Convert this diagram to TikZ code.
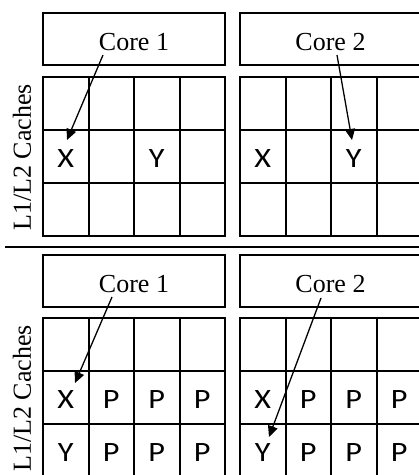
\documentclass[tikz,border=0pt]{standalone}
\usepackage{fontspec}
\setmainfont{Liberation Serif}
\newfontfamily\cellfont[FakeStretch=1.15]{Carlito}
\usetikzlibrary{arrows.meta}
\begin{document}
\begin{tikzpicture}[x=1pt,y=-1pt,
  line width=2pt,
  corebox/.style={draw, minimum width=182pt, minimum height=52pt, inner sep=0pt},
  coretext/.style={inner sep=0pt, yshift=-3.5pt, font=\fontsize{26}{30}\selectfont},
  cell/.style={draw, minimum width=45.5pt, minimum height=53pt, inner sep=0pt},
  letter/.style={inner sep=0pt, yshift=-2pt, font=\cellfont\fontsize{28}{32}\selectfont},
  sidelabel/.style={rotate=90, inner sep=0pt, font=\fontsize{26}{30}\selectfont},
  ptr/.style={line width=1.3pt, -{Triangle[length=11pt,width=10pt]}}
]
\useasboundingbox (0,0) rectangle (419,475);
\clip (0,0) rectangle (419,475);

% core boxes
\node[corebox] (core1top) at (134,39) {};
\node[corebox] (core2top) at (330.5,39) {};
\node[corebox] (core1bot) at (134,280.5) {};
\node[corebox] (core2bot) at (330.5,280.5) {};
\node[coretext] (c1top) at (core1top) {Core 1};
\node[coretext] (c2top) at (core2top) {Core 2};
\node[coretext] (c1bot) at (core1bot) {Core 1};
\node[coretext] (c2bot) at (core2bot) {Core 2};

% cache grids: 3 rows x 4 columns each
\foreach \c in {0,...,3} {
  \foreach \r in {0,1,2} {
    \node[cell] (tl-\r-\c) at ({43+45.5*(\c+0.5)},{77+53*(\r+0.5)}) {};
    \node[cell] (tr-\r-\c) at ({240+45.5*(\c+0.5)},{77+53*(\r+0.5)}) {};
    \node[cell] (bl-\r-\c) at ({43+45.5*(\c+0.5)},{318+53*(\r+0.5)}) {};
    \node[cell] (br-\r-\c) at ({240+45.5*(\c+0.5)},{318+53*(\r+0.5)}) {};
  }
}

% cache contents
\node[letter] (tlx) at (tl-1-0) {X};
\node[letter] (tly) at (tl-1-2) {Y};
\node[letter] (trx) at (tr-1-0) {X};
\node[letter] (try) at (tr-1-2) {Y};
\foreach \g in {bl,br} {
  \node[letter] (\g x) at (\g-1-0) {X};
  \node[letter] (\g y) at (\g-2-0) {Y};
  \foreach \c in {1,2,3} {
    \node[letter] (\g p1\c) at (\g-1-\c) {P};
    \node[letter] (\g p2\c) at (\g-2-\c) {P};
  }
}

% side labels
\node[sidelabel] (cachestop) at (22,157.5) {L1/L2 Caches};
\node[sidelabel] (cachesbot) at (22,398.5) {L1/L2 Caches};

% separator between the two configurations
\draw (5,247) -- (419,247);

% access pointers
\coordinate (s1) at (103,55);   \coordinate (t1) at (67,140);
\coordinate (s2) at (337,55);   \coordinate (t2) at (352,140);
\coordinate (s3) at (112,297);  \coordinate (t3) at (75,383);
\coordinate (s4) at (321,298);  \coordinate (t4) at (269,437);
\draw[ptr] (s1) -- (t1);
\draw[ptr] (s2) -- (t2);
\draw[ptr] (s3) -- (t3);
\draw[ptr] (s4) -- (t4);
\end{tikzpicture}
\end{document}
